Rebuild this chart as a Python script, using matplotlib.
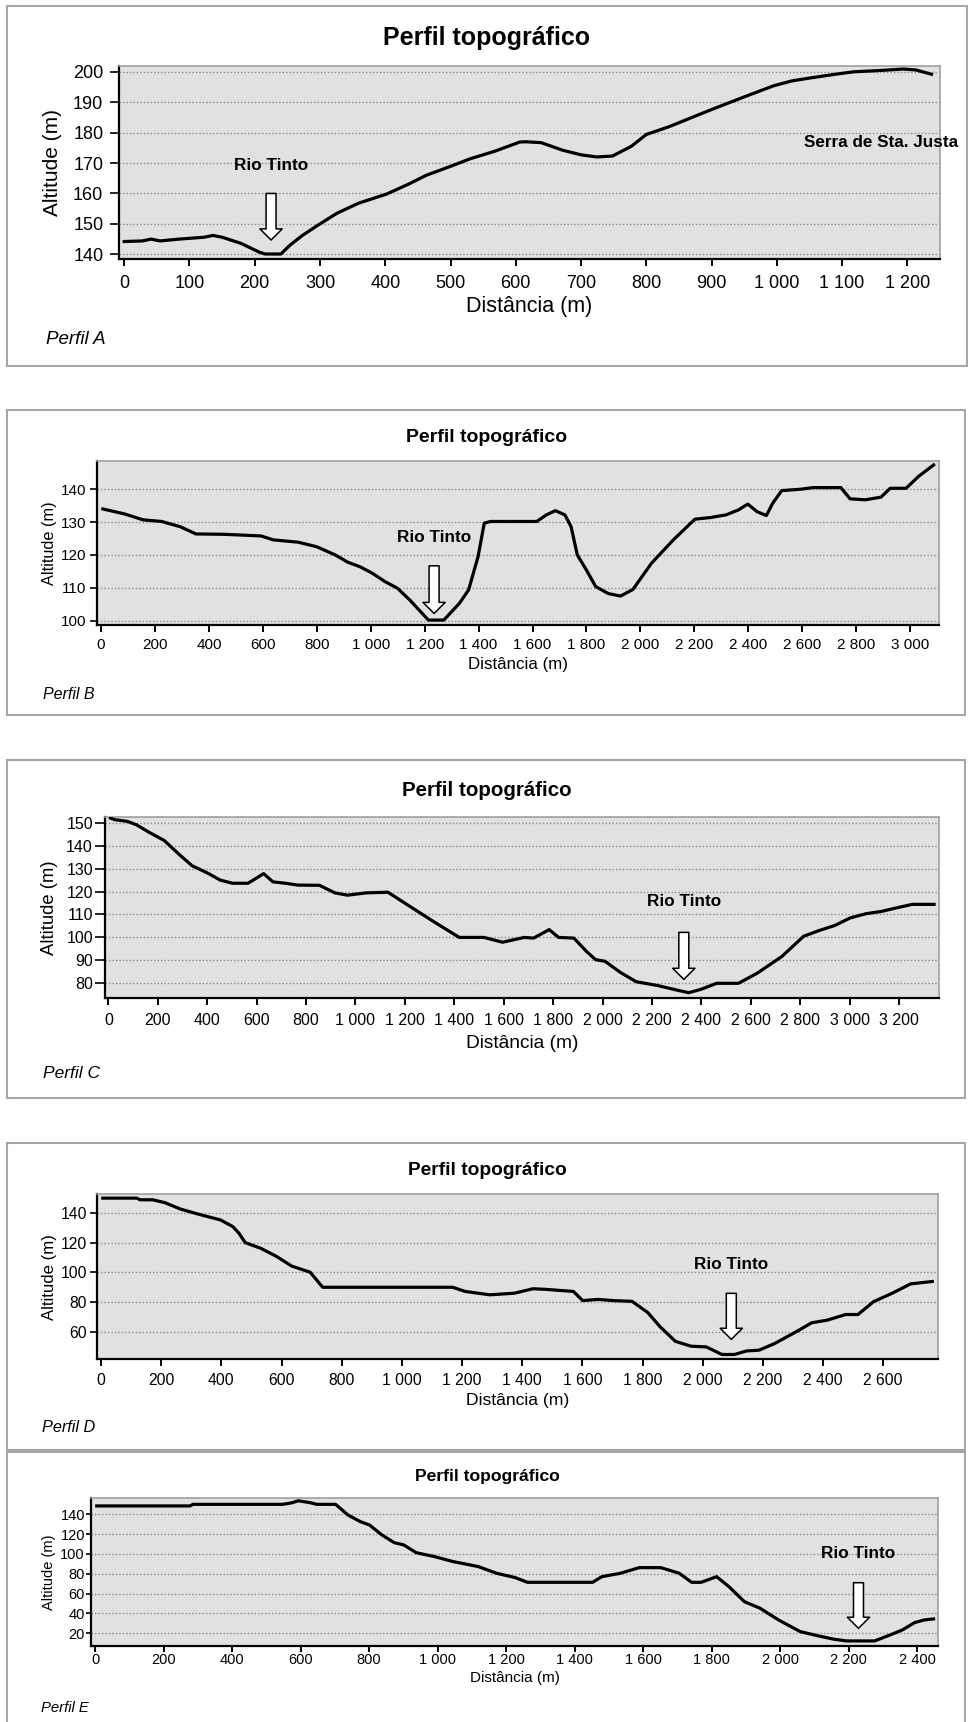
import matplotlib.pyplot as plt
from matplotlib.patches import Rectangle
from matplotlib.ticker import FuncFormatter

plt.rcParams['font.family'] = ['Liberation Sans', 'DejaVu Sans']

W, H = 972, 1722

# Perfil A
dist_a = [0, 28, 41, 55, 84, 122, 136, 150, 179, 207, 216, 240, 254, 273, 297, 326, 359, 402,
          435, 463, 501, 530, 568, 606, 615, 639, 672, 700, 724, 748, 777, 800, 833, 862, 900,
          947, 995, 1023, 1052, 1090, 1118, 1156, 1194, 1213, 1237]
alt_a = [144.2, 144.4, 145, 144.4, 145, 145.6, 146.2, 145.6, 143.6, 140.7, 140.1, 140.1, 143,
         146.2, 149.6, 153.5, 156.8, 159.8, 163, 166, 169, 171.4, 173.9, 176.9, 177, 176.7,
         174.2, 172.7, 172, 172.3, 175.5, 179.4, 181.8, 184.3, 187.6, 191.5, 195.4, 197, 198,
         199.2, 200, 200.4, 200.9, 200.6, 199.2]

# Perfil B
dist_b = [7, 87, 156, 225, 294, 352, 455, 593, 639, 731, 800, 869, 915, 961, 1007, 1053, 1099,
          1145, 1214, 1271, 1329, 1363, 1398, 1421, 1444, 1616, 1651, 1685, 1720, 1743, 1766,
          1800, 1834, 1880, 1926, 1972, 2041, 2122, 2202, 2260, 2317, 2363, 2398, 2432, 2467,
          2490, 2524, 2593, 2639, 2743, 2777, 2834, 2892, 2926, 2985, 3031, 3087]
alt_b = [134, 132.5, 130.7, 130.2, 128.6, 126.4, 126.3, 125.8, 124.6, 123.9, 122.5, 120, 117.8,
         116.4, 114.4, 111.9, 109.9, 106.3, 100.2, 100.2, 105.3, 109.4, 119.5, 129.7, 130.2,
         130.2, 132.2, 133.5, 132.2, 128.6, 120, 115.4, 110.4, 108.3, 107.5, 109.5, 117.5,
         124.6, 130.9, 131.4, 132.2, 133.7, 135.5, 133.2, 132, 135.7, 139.6, 140, 140.5, 140.5,
         137.1, 136.8, 137.6, 140.3, 140.3, 143.9, 147.4]

# Perfil C
dist_c = [8, 25, 75, 113, 163, 226, 289, 339, 402, 452, 502, 565, 603, 628, 666, 716, 766, 854,
          917, 967, 1043, 1131, 1219, 1319, 1420, 1520, 1595, 1683, 1721, 1784, 1822, 1884,
          1935, 1972, 2010, 2073, 2136, 2224, 2299, 2349, 2399, 2462, 2550, 2626, 2726, 2814,
          2877, 2940, 3003, 3065, 3128, 3191, 3254, 3342]
alt_c = [152, 151.3, 150.6, 149.1, 145.9, 142.2, 135.9, 131.2, 128, 125, 123.6, 123.6, 126.1,
         127.8, 124.2, 123.6, 122.8, 122.7, 119.4, 118.4, 119.4, 119.7, 113.6, 106.7, 100, 100,
         97.9, 100, 99.7, 103.4, 100, 99.7, 93.9, 90.3, 89.6, 84.7, 80.7, 79, 77.1, 75.9, 77.4,
         80, 80, 84.4, 91.7, 100.5, 103, 105.2, 108.5, 110.3, 111.3, 112.9, 114.4, 114.4]

# Perfil D
dist_d = [6, 119, 130, 171, 212, 263, 325, 397, 438, 459, 479, 531, 582, 634, 695, 737, 1169,
          1210, 1292, 1374, 1436, 1477, 1570, 1601, 1652, 1704, 1765, 1817, 1858, 1909, 1961,
          2012, 2064, 2105, 2146, 2187, 2239, 2311, 2362, 2414, 2475, 2516, 2568, 2630, 2691, 2763]
alt_d = [150.2, 150.2, 149.1, 149.1, 147.2, 142.9, 139.3, 135.5, 131, 126.4, 120.2, 116.3, 111,
         104.3, 100.2, 90, 90, 87.2, 84.9, 86, 89, 88.6, 87.2, 81, 81.8, 81, 80.5, 73, 63.4,
         53.5, 50.2, 49.7, 44.6, 44.6, 47, 47.5, 52, 60, 66, 67.8, 71.6, 71.6, 80.3, 86, 92.3, 93.9]

# Perfil E
dist_e = [5, 277, 286, 548, 575, 593, 629, 647, 702, 738, 774, 801, 837, 873, 901, 937, 991,
          1045, 1118, 1172, 1226, 1262, 1452, 1479, 1533, 1588, 1651, 1705, 1741, 1769, 1814,
          1850, 1895, 1941, 1995, 2058, 2112, 2157, 2193, 2275, 2320, 2356, 2392, 2419, 2447]
alt_e = [148.4, 148.4, 150, 150, 151.6, 153.6, 151.6, 150, 150, 139.3, 132.6, 129.2, 119.2,
         111.4, 109.1, 101.3, 97.3, 92.3, 87.3, 80.5, 76.2, 71.4, 71.4, 77.1, 80.5, 86.2, 86.2,
         80.5, 71.4, 71.4, 77.1, 67, 51.9, 45.2, 33.4, 21.7, 17.3, 14, 12.3, 12.3, 18.3, 23.4,
         30.8, 33.4, 34.5]

# posição do rio (distância, altitude do texto, topo da seta, ponta da seta)
rio_a = (225, 169.3, 160, 144.7)
rio_b = (1235, 125.4, 116.7, 102.2)
rio_c = (2329, 115.6, 102.2, 81.7)
rio_d = (2095, 105.5, 85.9, 54.8)
rio_e = (2228, 100.7, 71, 25)

# caixas e eixos em pixels (x0, y0, x1, y1)
paineis = [
    dict(d=dist_a, z=alt_a, rio=rio_a, nome="Perfil A",
         caixa=(7, 6, 967, 366), eixo=(119, 65.7, 940, 259.3),
         xlim=(-8, 1250), ylim=(138.36, 202), xmax=1200, xstep=100, ymin=140, ymax=200, ystep=10,
         ty=38, ts=18, ks=13, ls=15.5, xly=306.7, ylx=52.7, py=340, px=46, ps=13.5,
         xtl=5, xpad=6.3, ytl=6.5, ypad=4.8),
    dict(d=dist_b, z=alt_b, rio=rio_b, nome="Perfil B",
         caixa=(7, 410, 965, 715), eixo=(97.3, 461, 939, 625),
         xlim=(-13.7, 3107), ylim=(98.7, 148.6), xmax=3000, xstep=200, ymin=100, ymax=140, ystep=10,
         ty=438, ts=14, ks=11, ls=12.2, xly=665, ylx=49.6, py=694.3, px=42.7, ps=11.5,
         xtl=5, xpad=4.5, ytl=5.2, ypad=2.4),
    dict(d=dist_c, z=alt_c, rio=rio_c, nome="Perfil C",
         caixa=(7, 760, 965, 1098), eixo=(105, 816.7, 939, 998),
         xlim=(-14, 3362), ylim=(73.6, 152.6), xmax=3200, xstep=200, ymin=80, ymax=150, ystep=10,
         ty=790, ts=14.8, ks=11.5, ls=13.8, xly=1043, ylx=50, py=1073, px=43.4, ps=12.5,
         xtl=5, xpad=6, ytl=7.5, ypad=1.2),
    dict(d=dist_d, z=alt_d, rio=rio_d, nome="Perfil D",
         caixa=(7, 1143, 965, 1449.5), eixo=(96.7, 1194, 938, 1359.3),
         xlim=(-14.3, 2782), ylim=(41.35, 153), xmax=2600, xstep=200, ymin=60, ymax=140, ystep=20,
         ty=1170.7, ts=13.8, ks=11.3, ls=12.6, xly=1400, ylx=49.6, py=1428, px=42, ps=11.7,
         xtl=5, xpad=4.6, ytl=4.8, ypad=2),
    dict(d=dist_e, z=alt_e, rio=rio_e, nome="Perfil E",
         caixa=(7, 1451.7, 965, 1735), eixo=(91, 1497.7, 938, 1646),
         xlim=(-11.7, 2460), ylim=(7.2, 156.7), xmax=2400, xstep=200, ymin=20, ymax=140, ystep=20,
         ty=1476.7, ts=12.6, ks=10.5, ls=11, xly=1678, ylx=48.6, py=1708, px=40.7, ps=10.7,
         xtl=4, xpad=1.2, ytl=3.6, ypad=0.8),
]


def fx(x):
    return x / W


def fy(y):
    return 1 - y / H


def milhares(v, pos):
    return f"{v:,.0f}".replace(",", " ")


fig = plt.figure(figsize=(W / 100, H / 100), dpi=100)
fig.patch.set_facecolor('white')

for p in paineis:
    x0, y0, x1, y1 = p['caixa']
    fig.add_artist(Rectangle((fx(x0), fy(y1)), fx(x1) - fx(x0), fy(y0) - fy(y1),
                             transform=fig.transFigure, fill=False, ec='#a6a6a6', lw=1.5))

    ex0, ey0, ex1, ey1 = p['eixo']
    ax = fig.add_axes([fx(ex0), fy(ey1), fx(ex1) - fx(ex0), fy(ey0) - fy(ey1)])
    ax.set_facecolor('#e1e1e1')
    ax.plot(p['d'], p['z'], color='black', lw=2.3, zorder=3)
    ax.set_xlim(p['xlim'])
    ax.set_ylim(p['ylim'])
    ax.set_xticks(range(0, p['xmax'] + 1, p['xstep']))
    ax.set_yticks(range(p['ymin'], p['ymax'] + 1, p['ystep']))
    ax.xaxis.set_major_formatter(FuncFormatter(milhares))
    ax.grid(axis='y', linestyle=(0, (1, 1.5)), color='#8a8a8a', lw=1, zorder=1)
    ax.tick_params(axis='x', direction='out', length=p['xtl'], width=1.4, pad=p['xpad'],
                   labelsize=p['ks'])
    ax.tick_params(axis='y', direction='out', length=p['ytl'], width=1.2, pad=p['ypad'],
                   labelsize=p['ks'])
    for lado in ['top', 'right']:
        ax.spines[lado].set_color('#a0a0a0')
        ax.spines[lado].set_linewidth(1.2)
    for lado in ['left', 'bottom']:
        ax.spines[lado].set_color('black')
        ax.spines[lado].set_linewidth(1.6)

    # rio Tinto
    rx, ry, rtop, rtip = p['rio']
    ax.text(rx, ry, "Rio Tinto", ha='center', va='center', fontsize=12.3,
            fontweight='bold', zorder=5)
    ax.annotate('', xy=(rx, rtip), xytext=(rx, rtop),
                arrowprops=dict(arrowstyle='simple,head_length=0.4,head_width=0.8,tail_width=0.36',
                                fc='white', ec='black', lw=1.1, shrinkA=0, shrinkB=0,
                                mutation_scale=20), zorder=5)

    cx = (ex0 + ex1) / 2
    cy = (ey0 + ey1) / 2
    fig.text(fx(487), fy(p['ty']), "Perfil topográfico", ha='center', va='center',
             fontsize=p['ts'], fontweight='bold')
    fig.text(fx(cx), fy(p['xly']), "Distância (m)", ha='center', va='center', fontsize=p['ls'])
    fig.text(fx(p['ylx']), fy(cy), "Altitude (m)", ha='center', va='center',
             rotation=90, fontsize=p['ls'] - 0.5)
    fig.text(fx(p['px']), fy(p['py']), p['nome'], ha='left', va='center',
             fontsize=p['ps'], fontstyle='italic')

    if p['nome'] == "Perfil A":
        ax.text(1042, 176.6, "Serra de Sta. Justa", ha='left', va='center', fontsize=12.3,
                fontweight='bold', clip_on=False, zorder=5)

fig.savefig('out.png', dpi=100)
